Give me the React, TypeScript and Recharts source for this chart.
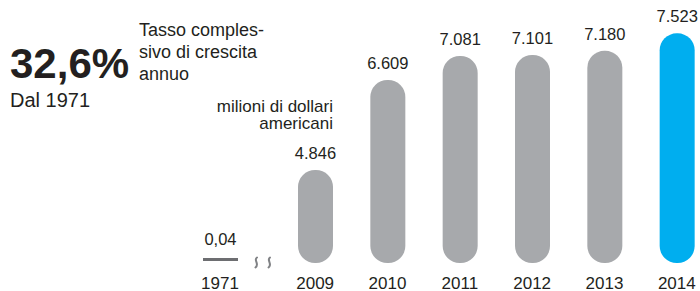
import { BarChart, Bar, XAxis, YAxis, Cell, LabelList } from 'recharts';

const years = ['2009', '2010', '2011', '2012', '2013', '2014'];
const revenue = [4846, 6609, 7081, 7101, 7180, 7523];
const startYear = '1971';
const startRevenue = 0.04;

const GRAY = '#a7a9ac';
const BLUE = '#00aeef';
const DARK = '#231f20';
const FONT = '"Liberation Sans", Arial, sans-serif';

const chartData = years.map((year, i) => ({ year, value: revenue[i] }));
const startData = [{ year: startYear, value: startRevenue }];

// 4846 -> "4.846", 0.04 -> "0,04"
const formatIt = (v: number) => {
  if (v < 1) return v.toFixed(2).replace('.', ',');
  return String(Math.round(v)).replace(/\B(?=(\d{3})+(?!\d))/g, '.');
};

const tickStyle = { fontSize: 17, fill: DARK, fontFamily: FONT };

export default function App() {
  return (
    <div
      style={{
        position: 'absolute',
        left: 0,
        top: 0,
        width: 700,
        height: 291,
        overflow: 'hidden',
        background: '#fff',
        fontFamily: FONT,
      }}
    >
      {/* 1971 bar, drawn almost flat on its own scale */}
      <div style={{ position: 'absolute', left: 185, top: 0 }}>
        <BarChart width={70} height={291} data={startData} margin={{ top: 9, right: 0, bottom: 0, left: 0 }}>
          <XAxis
            dataKey="year"
            axisLine={false}
            tickLine={false}
            tickSize={0}
            tickMargin={16}
            height={30}
            tick={tickStyle}
            interval={0}
          />
          <YAxis hide domain={[0, 8000]} />
          <Bar dataKey="value" barSize={35} minPointSize={3} fill="#6d6e71" isAnimationActive={false}>
            <LabelList
              dataKey="value"
              position="top"
              offset={13}
              formatter={(v: any) => formatIt(Number(v))}
              style={{ fontSize: 16.5, fill: DARK, fontFamily: FONT }}
            />
          </Bar>
        </BarChart>
      </div>

      <div style={{ position: 'absolute', left: 0, top: 0 }}>
        <BarChart width={720} height={291} data={chartData} margin={{ top: 9, right: 7, bottom: 0, left: 279 }}>
          <XAxis
            dataKey="year"
            axisLine={false}
            tickLine={false}
            tickSize={0}
            tickMargin={14}
            height={28}
            tick={tickStyle}
            interval={0}
          />
          <YAxis hide domain={[3026, 8000]} allowDataOverflow />
          <Bar dataKey="value" barSize={35} radius={[17, 17, 17, 17]} isAnimationActive={false}>
            {chartData.map((d, i) => (
              <Cell key={d.year} fill={i === chartData.length - 1 ? BLUE : GRAY} />
            ))}
            <LabelList
              dataKey="value"
              position="top"
              offset={11}
              formatter={(v: any) => formatIt(Number(v))}
              style={{ fontSize: 16.5, fill: DARK, fontFamily: FONT }}
            />
          </Bar>
        </BarChart>
      </div>

      <svg width={700} height={291} style={{ position: 'absolute', left: 0, top: 0, pointerEvents: 'none' }}>
        <g fill={DARK} fontFamily={FONT}>
          <text x={10} y={78} fontSize={42} fontWeight="bold">32,6%</text>
          <text x={10} y={107} fontSize={20}>Dal 1971</text>
          <text x={139} y={36} fontSize={18}>Tasso comples-</text>
          <text x={139} y={58} fontSize={18}>sivo di crescita</text>
          <text x={139} y={80} fontSize={18}>annuo</text>
          <text x={333} y={112} fontSize={17} textAnchor="end">milioni di dollari</text>
          <text x={333} y={129} fontSize={17} textAnchor="end">americani</text>
        </g>
        {/* axis break marks */}
        <g fill="none" stroke="#808285" strokeWidth={2} strokeLinecap="round">
          <path d="M257 257.5 C253 260, 260 264, 255.5 267.5" />
          <path d="M270 257.5 C266 260, 273 264, 268.5 267.5" />
        </g>
      </svg>
    </div>
  );
}
